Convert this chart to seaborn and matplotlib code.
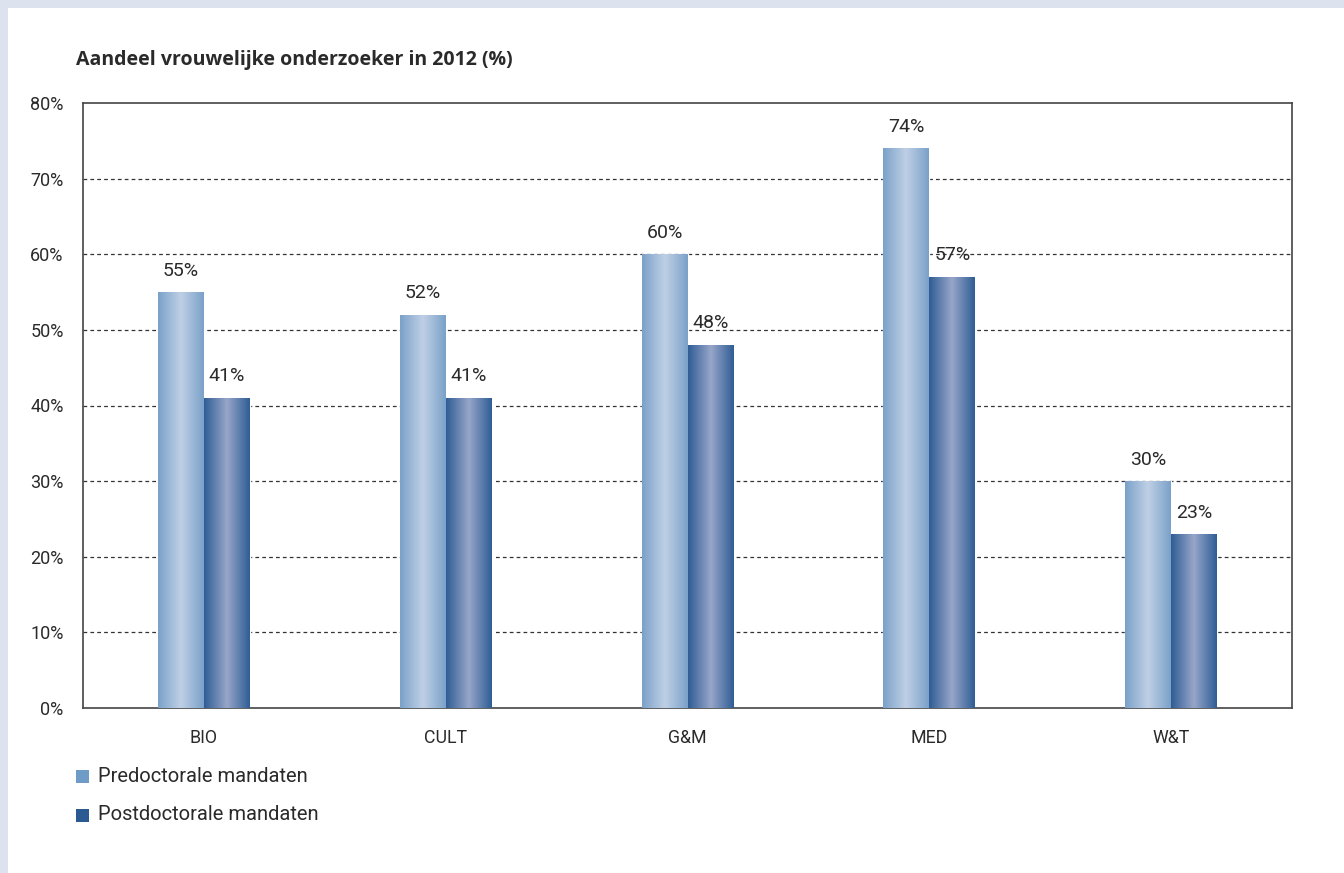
import numpy as np
import pandas as pd
import matplotlib.pyplot as plt
import matplotlib.patches as mpatches
from matplotlib.colors import LinearSegmentedColormap
import seaborn as sns

categories = ['BIO', 'CULT', 'G&M', 'MED', 'W&T']
predoc = [55, 52, 60, 74, 30]
postdoc = [41, 41, 48, 57, 23]
series = ['Predoctorale mandaten', 'Postdoctorale mandaten']
yticks = [0, 10, 20, 30, 40, 50, 60, 70, 80]

df = pd.DataFrame({
    'cat': categories * 2,
    'value': predoc + postdoc,
    'series': [series[0]] * len(categories) + [series[1]] * len(categories),
})

sns.set_style('white')
plt.rcParams['font.family'] = ['Roboto', 'DejaVu Sans']
txt = '#2a2a2a'

fig = plt.figure(figsize=(13.44, 8.73), dpi=100)
fig.patch.set_facecolor('#dce3ee')
fig.add_artist(mpatches.Rectangle((8 / 1344, 0), 1 - 8 / 1344, 1 - 8 / 873,
                                  transform=fig.transFigure, facecolor='white',
                                  edgecolor='none', zorder=-10))

ax = fig.add_axes([83 / 1344, 1 - 708 / 873, 1209 / 1344, 605 / 873])
sns.barplot(data=df, x='cat', y='value', hue='series', order=categories,
            hue_order=series, palette=['#6f9cc6', '#2a5a91'], width=0.38,
            gap=0, errorbar=None, legend=False, ax=ax, zorder=2)

ax.set_xlim(-0.5, 4.5)
ax.set_ylim(0, 80)
ax.set_yticks(yticks)
ax.set_yticklabels([f'{t}%' for t in yticks], fontsize=13, color=txt)
ax.tick_params(axis='x', labelsize=12.8, colors=txt, length=0, pad=15)
ax.tick_params(axis='y', length=0, pad=14)
ax.set_xlabel('')
ax.set_ylabel('')
for t in yticks[1:-1]:
    ax.axhline(t, color='#333333', lw=0.9, ls=(0, (3, 2.5)), zorder=1)
for s in ax.spines.values():
    s.set_color('#444444')
    s.set_linewidth(1.2)

# gradient fills
grads = [LinearSegmentedColormap.from_list('pre', ['#7aa1c9', '#bfd0e5', '#7aa1c9']),
         LinearSegmentedColormap.from_list('post', ['#2f5d95', '#97a6c9', '#2f5d95'])]
grad = np.linspace(0, 1, 256).reshape(1, -1)
n = len(categories)
for i, bar in enumerate(ax.patches[:2 * n]):
    k = i // n
    x0, y0 = bar.get_x(), bar.get_y()
    w, h = bar.get_width(), bar.get_height()
    im = ax.imshow(grad, cmap=grads[k], extent=[x0, x0 + w, y0, y0 + h],
                   aspect='auto', zorder=3, interpolation='bicubic')
    im.set_clip_path(bar)
    ax.annotate(f'{int(round(h))}%', (x0 + w / 2, h), xytext=(0, 9),
                textcoords='offset points', ha='center', va='bottom',
                fontsize=14, color=txt, zorder=5)
ax.set_xlim(-0.5, 4.5)
ax.set_ylim(0, 80)

fig.text(76 / 1344, 1 - 60 / 873, 'Aandeel vrouwelijke onderzoeker in 2012 (%)',
         fontsize=14, fontweight='bold', color=txt, va='center', ha='left',
         family=['Open Sans', 'DejaVu Sans'])

for j, (lbl, col) in enumerate(zip(series, ['#6f9cc6', '#2a5a91'])):
    yc = 776 + j * 39
    fig.add_artist(mpatches.Rectangle((76 / 1344, 1 - (yc + 7) / 873), 13 / 1344, 13 / 873,
                                      transform=fig.transFigure, facecolor=col,
                                      edgecolor='none'))
    fig.text(98 / 1344, 1 - yc / 873, lbl, fontsize=14.5, color=txt, va='center',
             ha='left')

fig.savefig('out.png', dpi=100, facecolor=fig.get_facecolor())
